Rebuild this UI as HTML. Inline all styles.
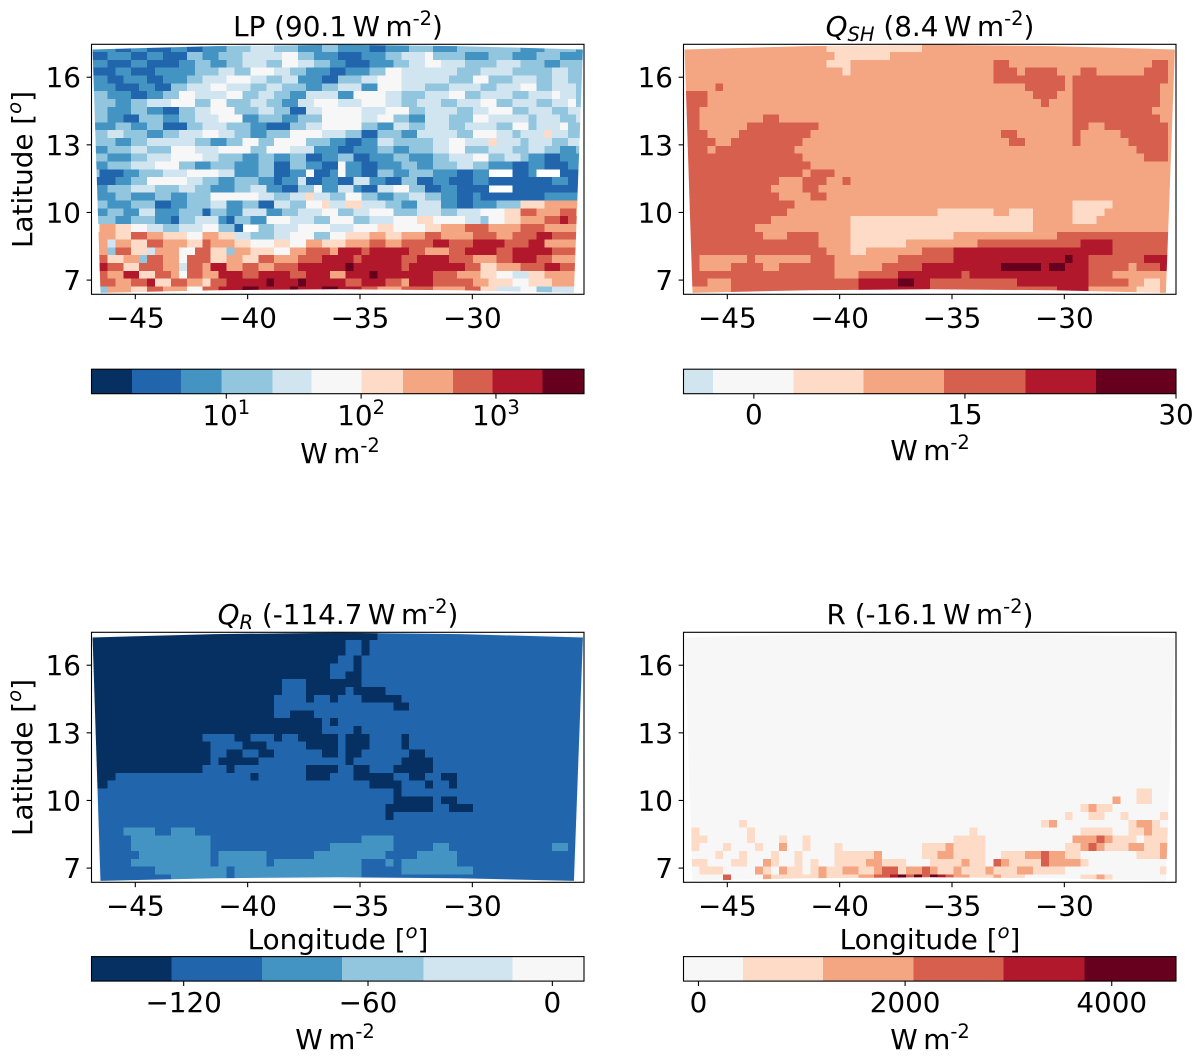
<!DOCTYPE html>
<html lang="en">
<head>
<meta charset="utf-8">
<title>Surface energy budget maps</title>
<style>
html,body{margin:0;padding:0;background:#fff;}
svg{display:block;font-family:"DejaVu Sans","Liberation Sans",sans-serif;fill:#000;}
.math{font-style:italic;}
</style>
</head>
<body>
<svg id="chart" xmlns="http://www.w3.org/2000/svg" width="1201" height="1064" viewBox="0 0 1201 1064">
  <rect x="0" y="0" width="1201" height="1064" fill="#fff"/>
  <g id="layer"></g>

  <text x="338" y="36" text-anchor="middle" font-size="27.8">LP (90.1&#8201;W&#8201;m<tspan dy="-11" font-size="19.5">-2</tspan><tspan dy="11">)</tspan></text>
  <text x="930" y="36" text-anchor="middle" font-size="27.8"><tspan class="math">Q</tspan><tspan class="math" dy="5" font-size="19.5">SH</tspan><tspan dy="-5"> (8.4&#8201;W&#8201;m</tspan><tspan dy="-11" font-size="19.5">-2</tspan><tspan dy="11">)</tspan></text>
  <text x="338" y="624" text-anchor="middle" font-size="27.8"><tspan class="math">Q</tspan><tspan class="math" dy="5" font-size="19.5">R</tspan><tspan dy="-5"> (-114.7&#8201;W&#8201;m</tspan><tspan dy="-11" font-size="19.5">-2</tspan><tspan dy="11">)</tspan></text>
  <text x="930" y="624" text-anchor="middle" font-size="27.8">R (-16.1&#8201;W&#8201;m<tspan dy="-11" font-size="19.5">-2</tspan><tspan dy="11">)</tspan></text>

  <text transform="translate(32,169.5) rotate(-90)" text-anchor="middle" font-size="27.8">Latitude [<tspan class="math" dy="-11" font-size="19.5">o</tspan><tspan dy="11">]</tspan></text>
  <text transform="translate(32,757.5) rotate(-90)" text-anchor="middle" font-size="27.8">Latitude [<tspan class="math" dy="-11" font-size="19.5">o</tspan><tspan dy="11">]</tspan></text>
  <text x="338" y="949" text-anchor="middle" font-size="27.8">Longitude [<tspan class="math" dy="-11" font-size="19.5">o</tspan><tspan dy="11">]</tspan></text>
  <text x="930" y="949" text-anchor="middle" font-size="27.8">Longitude [<tspan class="math" dy="-11" font-size="19.5">o</tspan><tspan dy="11">]</tspan></text>

  <text x="340" y="463" text-anchor="middle" font-size="27.8">W&#8201;m<tspan dy="-11" font-size="19.5">-2</tspan></text>
  <text x="930" y="460" text-anchor="middle" font-size="27.8">W&#8201;m<tspan dy="-11" font-size="19.5">-2</tspan></text>
  <text x="335" y="1049" text-anchor="middle" font-size="27.8">W&#8201;m<tspan dy="-11" font-size="19.5">-2</tspan></text>
  <text x="930" y="1049" text-anchor="middle" font-size="27.8">W&#8201;m<tspan dy="-11" font-size="19.5">-2</tspan></text>
</svg>

<script>
/* ---------- axis data ---------- */
const lonExtent = [-46.95, -25.03];
const latExtent = [17.46, 6.37];
const lonTicks = [-45, -40, -35, -30];
const latTicks = [16, 13, 10, 7];
const gridCols = 62;
const gridRows = 32;

/* data footprint of the model domain, in degrees */
const footprintLon = [-46.90, -41.45, -35.98, -30.55, -25.08, -25.48, -30.55, -35.98, -41.45, -46.55];
const footprintLat = [17.23, 17.38, 17.44, 17.38, 17.23, 6.43, 6.55, 6.59, 6.55, 6.43];

/* ---------- colour bar data ---------- */
const lpColors = ['#053061','#2166ac','#4393c3','#92c5de','#d1e5f0','#f7f7f7','#fddbc7','#f4a582','#d6604d','#b2182b','#67001f'];
const lpEdges = [1, 2, 4.6, 9.2, 22, 43, 101, 204, 480, 944, 2213, 4500];
const lpTicks = [10, 100, 1000];
const lpTickExponents = ['1', '2', '3'];

const qshColors = ['#d1e5f0','#f7f7f7','#fddbc7','#f4a582','#d6604d','#b2182b','#67001f'];
const qshEdges = [-5, -2.9, 2.8, 7.8, 13.5, 19.3, 24.3, 30];
const qshTicks = [0, 15, 30];
const qshTickLabels = ['0', '15', '30'];

const qrColors = ['#053061','#2166ac','#4393c3','#92c5de','#d1e5f0','#f7f7f7'];
const qrEdges = [-150, -124, -94.5, -68.5, -42, -13, 10.3];
const qrTicks = [-120, -60, 0];
const qrTickLabels = ['\u2212120', '\u221260', '0'];

const rColors = ['#f7f7f7','#fddbc7','#f4a582','#d6604d','#b2182b','#67001f'];
const rEdges = [-145, 432, 1205, 2083, 2953, 3736, 4622];
const rTicks = [0, 2000, 4000];
const rTickLabels = ['0', '2000', '4000'];

/* ---------- gridded values: each row lists colour-bin, cell-count pairs, north to south ---------- */
const lpRows = [
[2,3,1,2,2,2,1,3,2,2,1,2,2,3,3,3,4,3,3,3,2,3,3,2,2,4,1,2,2,3,3,3,2,3,3,4,3,4,2,3,3,4,2,3],
[1,2,2,3,1,2,2,2,1,3,3,2,2,2,3,3,4,2,4,3,5,2,3,2,2,3,1,3,2,3,3,2,4,3,5,1,3,4,2,3,3,3,2,3,3,3,2,2],
[2,2,1,3,2,2,1,4,2,2,3,2,2,2,3,2,4,3,3,2,5,2,4,2,3,2,2,2,1,3,2,3,3,2,4,2,5,2,4,3,3,4,4,3,3,3,2,2,3,3],
[1,3,2,2,1,3,2,3,2,2,3,3,4,2,3,2,5,3,4,2,3,2,2,3,1,2,2,3,3,2,5,2,4,3,4,4,3,3,4,4,3,3,3,2,4,2,3,2],
[2,2,1,2,2,3,1,2,2,3,3,2,4,3,5,3,4,2,3,2,4,2,2,3,1,2,3,3,4,2,5,3,4,3,4,3,3,3,5,2,3,3,4,3,3,2,4,2,3,2],
[2,3,1,3,2,2,1,2,3,2,4,3,5,2,4,3,3,2,4,2,3,3,2,2,3,2,4,3,2,2,5,3,4,3,3,3,4,4,3,2,4,3,5,2,3,2,4,3,3,1],
[3,2,2,3,1,2,2,2,3,2,5,2,4,4,5,2,3,2,4,2,3,2,2,2,4,4,2,2,5,4,4,2,3,3,4,3,5,2,3,2,4,4,3,2,4,3,5,1,4,2,3,1],
[3,3,2,2,3,2,4,3,5,3,3,2,5,2,3,3,4,2,3,2,2,2,4,2,5,3,4,3,5,3,4,2,3,2,4,3,3,2,4,3,5,2,3,2,4,3,3,2,4,2,5,1,3,1],
[3,2,2,3,3,2,2,2,1,2,3,2,4,2,5,3,3,3,4,2,3,2,1,2,4,2,5,5,4,3,5,3,3,2,4,4,3,2,4,2,5,3,3,2,4,3,3,2,4,2],
[3,2,2,2,1,2,3,3,2,2,3,2,4,3,5,3,2,2,3,3,2,2,3,3,5,5,4,2,5,2,3,2,2,2,4,3,3,3,5,2,4,3,4,2,3,1,4,3,3,2,4,1],
[2,3,3,2,2,2,3,2,1,3,3,2,4,3,3,3,2,2,1,3,3,2,4,2,5,5,3,2,2,2,4,2,3,2,4,3,3,2,4,4,3,2,5,2,3,1,4,3,5,1,3,2],
[3,2,4,2,3,3,2,2,3,2,4,3,5,2,4,2,3,2,2,2,3,3,5,4,4,3,3,2,1,2,3,3,2,2,4,2,4,3,3,2,5,3,4,2,3,1,4,3,6,1,4,2,3,2],
[3,3,2,2,3,2,4,3,4,3,3,2,2,2,3,2,5,2,3,2,5,4,3,3,2,2,1,2,2,2,4,2,3,2,3,3,4,2,5,2,4,3,6,1,4,3,3,1,4,3,3,2,4,2],
[2,2,3,3,4,2,3,3,5,3,4,3,5,4,3,2,5,3,4,3,2,3,1,2,2,3,3,2,2,2,3,3,4,2,5,2,3,3,4,3,3,2,4,2,3,2,2,2,3,1],
[3,2,2,3,3,2,4,3,5,4,4,2,3,3,2,2,3,2,2,2,3,2,1,2,2,2,3,2,1,2,2,3,3,2,2,3,3,2,4,3,5,2,3,2,4,2,3,1,2,2,1,2,2,3],
[2,2,3,3,4,3,5,3,3,2,2,2,3,3,2,3,3,2,1,2,3,2,2,2,1,2,5,1,2,2,1,2,2,3,3,2,2,2,3,3,4,2,3,2,2,3,1,2,2,2,1,3,2,2],
[3,1,1,3,2,2,3,3,4,3,5,4,4,2,2,3,3,2,1,2,2,2,5,1,1,2,2,1,5,1,2,2,1,2,3,2,2,2,3,3,2,3,1,2,2,2,-1,3,1,2,2,1,-1,3,1,3],
[1,3,2,2,3,2,5,3,5,2,4,2,3,2,2,2,3,3,2,2,1,1,2,2,4,1,1,2,2,2,1,2,4,2,2,2,1,2,3,2,1,2,2,2,1,3,2,2,1,2,1,3,1,3,2,2,1,2,2,2],
[2,2,3,3,4,3,3,3,4,2,3,2,2,3,3,2,4,2,2,2,1,2,3,2,5,1,2,2,4,2,2,1,1,2,4,2,5,2,3,2,1,2,2,2,1,2,1,2,-1,3,1,2,1,2,1,2,1,3],
[2,3,3,2,2,3,3,2,2,2,3,3,5,3,5,3,4,2,3,2,4,2,6,1,4,2,3,2,5,2,3,2,2,2,3,2,4,2,3,2,2,2,1,2,2,1,1,3,1,2,1,3,2,2,2,3,3,2],
[3,2,2,3,3,3,1,2,2,2,3,3,4,2,2,2,3,2,1,2,4,2,3,2,5,2,6,1,4,2,6,2,4,3,3,2,2,2,4,3,2,2,1,2,2,3,3,3,6,3,7,3],
[2,2,3,2,2,2,4,2,2,3,3,3,1,1,3,2,2,2,4,3,2,2,3,2,4,3,5,2,3,2,4,2,5,3,3,3,4,3,3,2,4,3,5,3,6,2,8,2,7,3,8,2,7,2],
[3,3,2,2,3,3,2,2,1,1,3,2,4,3,2,1,1,1,3,2,2,2,5,3,4,3,3,2,5,3,3,2,4,3,5,3,6,2,5,4,4,2,3,1,5,2,6,2,7,3,8,2,9,1,8,3,7,3],
[5,1,7,2,6,2,5,2,4,2,3,2,4,3,5,2,3,2,1,1,-1,2,3,2,4,3,5,4,4,3,5,3,6,2,5,4,6,2,7,3,8,3,7,4,8,3,7,3],
[7,3,6,2,8,2,7,2,6,3,5,2,7,2,6,2,4,2,3,3,4,2,5,3,3,2,5,2,6,3,7,2,6,2,7,3,8,2,7,4,8,3,7,2,8,3,9,2,8,3,7,3],
[7,2,4,1,7,2,6,2,8,2,7,3,6,2,8,1,7,3,6,2,5,3,6,2,5,2,7,2,6,3,7,3,8,2,7,2,8,4,9,2,8,3,9,4,8,3,9,2,7,3],
[7,2,3,1,8,2,6,2,4,1,7,3,5,2,8,2,6,2,3,1,7,2,6,3,5,2,7,2,8,3,7,1,9,3,8,1,9,5,8,2,7,3,8,2,9,4,8,2,9,5,8,1],
[8,2,6,2,7,2,3,1,8,2,7,2,5,1,8,3,6,2,7,2,6,2,8,2,7,3,8,3,9,4,8,1,9,5,8,2,9,4,8,3,7,3,8,2,9,3,8,2,7,2],
[7,1,9,1,8,2,6,2,8,3,7,2,4,1,8,2,7,1,9,2,7,2,8,2,7,2,8,3,9,6,10,1,9,6,8,1,9,7,8,2,6,2,7,3,8,3,9,2,8,2],
[8,2,7,2,9,2,6,2,8,2,7,1,5,1,8,2,7,2,9,3,8,2,9,4,8,2,9,3,7,2,9,3,10,1,9,7,8,3,7,3,6,2,5,2,4,2,6,2,7,3],
[5,1,8,2,7,2,8,2,9,1,6,2,8,2,7,2,6,1,8,2,9,5,10,1,9,3,10,1,9,5,8,2,9,3,8,2,7,1,9,3,8,5,7,2,6,3,5,2,6,3,7,2],
[3,2,7,3,6,2,8,2,7,3,5,2,8,2,9,3,10,2,9,4,10,1,9,3,10,2,9,3,8,2,7,3,8,4,7,4,8,2,6,2,4,3,5,2,3,2,4,2]
];

const qshRows = [
[3,18,2,12,3,32],
[3,19,2,7,3,36],
[3,18,2,3,3,18,4,2,3,18,4,2,3,1],
[3,20,2,1,3,18,4,3,3,1,4,4,3,3,4,2,3,6,4,3,3,1],
[3,39,4,9,3,1,4,12,3,1],
[3,4,4,1,3,38,4,5,3,1,4,11,3,2],
[4,3,3,41,4,3,3,2,4,11,3,2],
[4,3,3,42,4,1,3,3,4,11,3,2],
[4,2,3,47,4,10,3,3],
[4,2,3,8,4,2,3,37,4,11,3,2],
[4,2,3,6,4,9,3,32,4,2,3,2,4,8,3,1],
[4,3,3,4,4,9,3,24,4,2,3,7,4,1,3,5,4,6,3,1],
[4,4,3,2,4,9,3,26,4,2,3,6,4,1,3,6,4,5,3,1],
[4,3,3,1,4,10,3,43,4,4,3,1],
[4,15,3,43,4,3,3,1],
[4,16,3,46],
[4,15,3,1,4,3,3,43],
[4,12,3,3,4,3,3,2,4,1,3,41],
[4,11,3,4,4,2,3,45],
[4,12,3,4,4,2,3,44],
[4,14,3,35,2,5,3,8],
[4,13,3,19,2,7,3,2,2,3,3,5,2,4,3,9],
[4,11,3,10,2,23,3,5,2,3,3,10],
[4,9,3,12,2,23,3,18],
[4,10,3,3,4,4,3,4,2,13,3,13,4,15],
[4,17,3,4,2,7,3,9,4,13,5,4,4,8],
[4,18,3,3,2,2,3,7,4,4,5,20,4,8],
[4,2,3,6,4,1,3,7,4,3,3,8,4,7,5,14,6,1,5,2,4,7,5,3,3,1],
[4,2,3,4,4,4,3,2,4,7,3,6,4,5,5,10,6,5,5,1,6,2,5,3,4,5,3,1,4,3,5,1,3,1],
[4,19,3,3,4,5,5,8,4,1,5,15,4,3,3,8],
[4,3,3,3,4,16,5,5,6,2,5,2,4,11,5,9,4,5,3,2,2,2,3,2],
[3,6,4,16,5,9,4,16,5,4,3,6,2,3,3,2]
];

const qrRows = [
[0,36,1,26],
[0,32,1,2,0,1,1,27],
[0,32,1,2,0,1,1,27],
[0,31,1,2,0,1,1,28],
[0,30,1,3,0,1,1,28],
[0,30,1,2,0,2,1,28],
[0,24,1,3,0,7,1,28],
[0,24,1,3,0,5,1,1,0,4,1,25],
[0,23,1,4,0,1,1,2,0,1,1,3,0,5,1,23],
[0,23,1,15,0,2,1,22],
[0,23,1,2,0,3,1,34],
[0,29,1,1,0,1,1,31],
[0,29,1,4,0,1,1,28],
[0,14,1,4,0,2,1,3,0,1,1,2,0,5,1,1,0,3,1,4,0,1,1,22],
[0,15,1,4,0,3,1,5,0,4,1,1,0,3,1,4,0,1,1,22],
[0,15,1,2,0,2,1,2,0,2,1,6,0,2,1,1,0,2,1,6,0,2,1,20],
[0,15,1,1,0,5,1,11,0,1,1,6,0,4,1,19],
[0,14,1,3,0,1,1,9,0,4,1,2,0,2,1,3,0,5,1,19],
[0,3,1,17,0,1,1,6,0,3,1,3,0,5,1,2,0,2,1,2,0,2,1,16],
[0,2,1,33,0,4,1,3,0,1,1,2,0,1,1,16],
[1,38,0,1,1,23],
[1,38,0,5,1,1,0,2,1,16],
[1,37,0,6,1,2,0,3,1,14],
[1,37,0,1,1,24],
[1,62],
[1,4,2,4,1,2,2,3,1,49],
[1,5,2,10,1,19,2,4,1,24],
[1,5,2,10,1,15,2,8,1,5,2,2,1,13,2,2,1,2],
[1,6,2,9,1,1,2,6,1,6,2,9,1,4,2,5,1,16],
[1,5,2,10,1,1,2,6,1,1,2,11,1,3,2,1,1,1,2,7,1,16],
[1,8,2,9,1,1,2,16,1,5,2,9,1,14],
[1,10,2,7,1,1,2,16,1,27]
];

const rRows = [
[0,62],[0,62],[0,62],[0,62],[0,62],[0,62],[0,62],[0,62],[0,62],[0,62],
[0,62],[0,62],[0,62],[0,62],[0,62],[0,62],[0,62],[0,62],[0,62],[0,62],
[0,57,1,2,0,3],
[0,54,2,1,0,2,1,2,0,3],
[0,50,1,1,2,1,1,2,0,7],
[0,48,1,1,0,2,1,2,0,2,1,1,0,4,1,1,0,1],
[0,7,1,1,0,37,1,1,2,1,0,9,1,1,2,2,1,1,0,1,1,1],
[0,1,1,1,0,6,1,1,0,27,1,1,0,13,1,4,0,2,1,2,2,1,1,2,0,1],
[0,1,1,2,0,5,1,1,0,3,1,1,0,2,1,1,0,18,1,4,0,11,2,3,3,1,2,1,1,3,0,1,1,4],
[0,1,1,1,0,3,1,1,0,3,1,1,0,2,2,1,0,2,1,1,0,3,1,1,0,10,1,3,2,1,1,4,0,10,1,2,2,1,3,1,2,1,1,3,2,2,1,2,2,1,3,1],
[0,4,1,1,0,2,1,1,0,3,1,1,0,2,1,1,0,4,1,5,2,1,0,5,1,2,2,2,1,4,0,2,1,3,2,2,3,1,2,2,1,2,0,7,1,3,2,1,3,1],
[0,1,1,2,0,3,1,2,0,2,2,1,1,1,0,2,1,1,0,1,1,1,0,2,1,4,2,2,1,3,0,3,1,4,2,1,1,2,0,1,3,1,2,1,1,4,3,1,2,4,1,1,0,11],
[0,2,1,3,0,4,2,1,1,1,0,1,2,1,1,2,0,1,1,1,2,1,1,2,2,2,1,2,2,1,3,2,1,1,2,2,3,1,2,1,1,2,2,1,1,3,2,1,1,3,2,2,1,4,0,12,1,1,0,1],
[0,5,3,1,0,4,2,1,1,6,2,1,1,4,2,2,3,1,3,1,4,1,5,1,3,1,5,1,3,1,5,1,4,1,3,1,2,2,1,3,2,1,1,3,0,7,1,2,2,1,1,1,0,8]
];

/* ---------- layout ---------- */
const panelW = 492.5;
const panelH = 250;
const cbH = 24.5;
const tickFont = 27.8;
const NS = 'http://www.w3.org/2000/svg';
const layer = document.getElementById('layer');

function make(tag, parent, attrs) {
  const el = document.createElementNS(NS, tag);
  for (const k in attrs) el.setAttribute(k, attrs[k]);
  parent.appendChild(el);
  return el;
}

function xAxis(left) {
  return lon => left + (lon - lonExtent[0]) / (lonExtent[1] - lonExtent[0]) * panelW;
}
function yAxis(top) {
  return lat => top + (lat - latExtent[0]) / (latExtent[1] - latExtent[0]) * panelH;
}
function linearBar(edges, left) {
  const lo = edges[0], hi = edges[edges.length - 1];
  return v => left + (v - lo) / (hi - lo) * panelW;
}
function logBar(edges, left) {
  const lo = Math.log10(edges[0]), hi = Math.log10(edges[edges.length - 1]);
  return v => left + (Math.log10(v) - lo) / (hi - lo) * panelW;
}

function drawPanel(key, left, top, rows, colors, halo) {
  const x = xAxis(left);
  const y = yAxis(top);
  const dLon = (lonExtent[1] - lonExtent[0]) / gridCols;
  const dLat = (latExtent[1] - latExtent[0]) / gridRows;
  const pts = footprintLon.map((lon, i) => x(lon).toFixed(1) + ',' + y(footprintLat[i]).toFixed(1)).join(' ');

  const g = make('g', layer, {});
  
  

  const clip = make('clipPath', g, { id: key + '-clip' });
  make('polygon', clip, { points: pts });

  if (halo) {
    const haloShape = make('polygon', g, { points: pts, fill: '#f7f7f7', stroke: '#f7f7f7', 'stroke-width': 3 });
    
    
  }

  const field = make('g', g, { 'clip-path': 'url(#' + key + '-clip)', 'shape-rendering': 'crispEdges' });
  
  

  rows.forEach((row, r) => {
    let col = 0;
    for (let i = 0; i < row.length; i += 2) {
      const bin = Math.round(row[i]);
      const isLast = i + 2 >= row.length;
      const run = isLast ? Math.max(gridCols - col, Math.round(row[i + 1])) : Math.round(row[i + 1]);
      if (bin >= 0 && run > 0) {
        const x0 = x(lonExtent[0] + col * dLon);
        const x1 = x(lonExtent[0] + (col + run) * dLon);
        const y0 = y(latExtent[0] + r * dLat);
        const y1 = y(latExtent[0] + (r + 1) * dLat);
        const cell = make('rect', field, {
          x: x0.toFixed(2), y: y0.toFixed(2),
          width: (x1 - x0 + 0.4).toFixed(2), height: (y1 - y0 + 0.4).toFixed(2),
          fill: colors[Math.min(colors.length - 1, bin)]
        });
        
        
      }
      col += run;
    }
  });

  const frame = make('rect', g, { x: left, y: top, width: panelW, height: panelH, fill: 'none', stroke: '#000', 'stroke-width': 1.1 });
  
  

  lonTicks.forEach(v => {
    const px = x(v);
    const mark = make('line', g, { x1: px, x2: px, y1: top + panelH, y2: top + panelH + 4.9, stroke: '#000', 'stroke-width': 1.1 });
    
    
    const label = make('text', g, { x: px, y: top + panelH + 33, 'text-anchor': 'middle', 'font-size': tickFont });
    
    
    label.textContent = '\u2212' + Math.abs(v);
  });
  latTicks.forEach(v => {
    const py = y(v);
    const mark = make('line', g, { x1: left - 4.9, x2: left, y1: py, y2: py, stroke: '#000', 'stroke-width': 1.1 });
    
    
    const label = make('text', g, { x: left - 10.5, y: py + 10, 'text-anchor': 'end', 'font-size': tickFont });
    
    
    label.textContent = v;
  });
}

function drawColorbar(key, left, top, colors, edges, ticks, labels, scale, labelBaseline, exponents) {
  const g = make('g', layer, {});
  
  

  colors.forEach((c, i) => {
    const x0 = scale(edges[i]);
    const x1 = scale(edges[i + 1]);
    const swatch = make('rect', g, { x: x0.toFixed(2), y: top, width: (x1 - x0).toFixed(2), height: cbH, fill: c, 'shape-rendering': 'crispEdges' });
    
    
  });
  const box = make('rect', g, { x: left, y: top, width: panelW, height: cbH, fill: 'none', stroke: '#000', 'stroke-width': 1.1 });
  
  

  ticks.forEach((v, i) => {
    const px = scale(v);
    const mark = make('line', g, { x1: px, x2: px, y1: top + cbH, y2: top + cbH + 4.9, stroke: '#000', 'stroke-width': 1.1 });
    
    
    const label = make('text', g, { x: px, y: labelBaseline, 'text-anchor': 'middle', 'font-size': tickFont });
    
    
    if (exponents) {
      label.textContent = '10';
      const sup = make('tspan', label, { dy: -11, 'font-size': 19.5 });
      sup.textContent = exponents[i];
    } else {
      label.textContent = labels[i];
    }
  });
}

drawPanel('lp', 91.5, 44.3, lpRows, lpColors, false);
drawPanel('qsh', 683.5, 44.3, qshRows, qshColors, false);
drawPanel('qr', 91.5, 632.3, qrRows, qrColors, true);
drawPanel('r', 683.5, 632.3, rRows, rColors, false);

drawColorbar('lp', 91.5, 369.2, lpColors, lpEdges, lpTicks, null, logBar(lpEdges, 91.5), 425, lpTickExponents);
drawColorbar('qsh', 683.5, 369.2, qshColors, qshEdges, qshTicks, qshTickLabels, linearBar(qshEdges, 683.5), 424);
drawColorbar('qr', 91.5, 956.6, qrColors, qrEdges, qrTicks, qrTickLabels, linearBar(qrEdges, 91.5), 1012);
drawColorbar('r', 683.5, 956.6, rColors, rEdges, rTicks, rTickLabels, linearBar(rEdges, 683.5), 1012);
</script>
</body>
</html>
